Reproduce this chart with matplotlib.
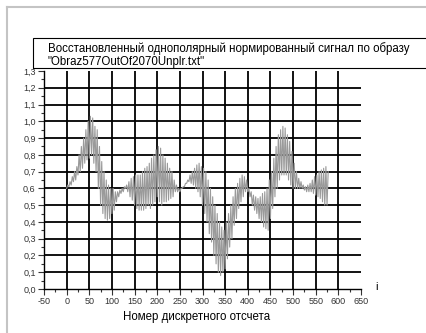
import numpy as np
import matplotlib
matplotlib.use("Agg")
import matplotlib.pyplot as plt
from matplotlib.ticker import MultipleLocator, FuncFormatter

plt.rcParams['font.family'] = ['Liberation Sans', 'DejaVu Sans']
plt.rcParams['axes.unicode_minus'] = False

TITLE = ('Восстановленный однополярный нормированный сигнал по образу\n'
         '"Obraz577OutOf2070Unplr.txt"')
XLABEL = "Номер дискретного отсчета"

# sample index (step 5) with upper / lower swing of the oscillating signal
idx = np.arange(0, 580, 5)
upper = [0.62, 0.64, 0.67, 0.70, 0.73, 0.80, 0.85, 0.90, 0.95, 1.00,
         1.03, 1.02, 0.97, 0.95, 0.85, 0.76, 0.70, 0.65, 0.62, 0.60,
         0.60, 0.58, 0.58, 0.59, 0.60, 0.61, 0.62, 0.64, 0.66, 0.67,
         0.68, 0.68, 0.68, 0.70, 0.72, 0.73, 0.75, 0.78, 0.80, 0.83,
         0.85, 0.84, 0.80, 0.78, 0.75, 0.72, 0.70, 0.65, 0.62, 0.60,
         0.60, 0.61, 0.63, 0.65, 0.68, 0.70, 0.72, 0.74, 0.75, 0.73,
         0.72, 0.70, 0.65, 0.60, 0.55, 0.50, 0.45, 0.40, 0.37, 0.35,
         0.40, 0.45, 0.50, 0.55, 0.60, 0.63, 0.66, 0.68, 0.67, 0.65,
         0.60, 0.58, 0.56, 0.55, 0.54, 0.55, 0.57, 0.58, 0.60, 0.65,
         0.70, 0.78, 0.85, 0.92, 0.95, 0.97, 0.96, 0.92, 0.88, 0.82,
         0.75, 0.70, 0.66, 0.64, 0.62, 0.61, 0.62, 0.63, 0.65, 0.67,
         0.68, 0.70, 0.71, 0.72, 0.73, 0.70]
lower = [0.60, 0.61, 0.62, 0.64, 0.65, 0.68, 0.70, 0.72, 0.75, 0.77,
         0.78, 0.80, 0.75, 0.70, 0.60, 0.50, 0.45, 0.42, 0.41, 0.42,
         0.45, 0.47, 0.52, 0.55, 0.57, 0.58, 0.60, 0.58, 0.55, 0.53,
         0.50, 0.48, 0.47, 0.47, 0.47, 0.48, 0.50, 0.48, 0.50, 0.52,
         0.55, 0.52, 0.50, 0.52, 0.52, 0.53, 0.54, 0.55, 0.58, 0.58,
         0.58, 0.60, 0.61, 0.63, 0.64, 0.63, 0.62, 0.60, 0.58, 0.55,
         0.50, 0.45, 0.40, 0.33, 0.28, 0.20, 0.15, 0.10, 0.08, 0.10,
         0.12, 0.18, 0.25, 0.30, 0.38, 0.42, 0.48, 0.52, 0.55, 0.58,
         0.58, 0.55, 0.50, 0.47, 0.45, 0.42, 0.40, 0.37, 0.36, 0.35,
         0.42, 0.48, 0.55, 0.60, 0.65, 0.68, 0.68, 0.68, 0.65, 0.62,
         0.60, 0.60, 0.60, 0.60, 0.60, 0.59, 0.58, 0.58, 0.58, 0.57,
         0.56, 0.55, 0.54, 0.52, 0.50, 0.50]

# zigzag: lower value at i, upper value half a step later
xs = np.column_stack([idx, idx + 2.5]).ravel()
ys = np.column_stack([lower, upper]).ravel()

fig = plt.figure(figsize=(4.26, 3.33), dpi=100)

# page frame
fig.add_artist(plt.Line2D([7 / 426, 7 / 426], [0, 1 - 7 / 333], color="#c4c4c4", lw=1.5))
fig.add_artist(plt.Line2D([7 / 426, 1], [1 - 7 / 333, 1 - 7 / 333], color="#c4c4c4", lw=1.5))

# title box
fig.add_artist(plt.Rectangle((33 / 426, 1 - 68 / 333), 1, 30 / 333, fill=False,
                             edgecolor="black", lw=0.8))
fig.text(48 / 426, 1 - 55 / 333, TITLE, fontsize=8.3, va="center", ha="left",
         linespacing=1.2)

ax = fig.add_axes([44 / 426, 44 / 333, 317 / 426, 218 / 333])
ax.set_xlim(-50, 650)
ax.set_ylim(0, 1.3)

# grid
for gx in range(0, 650, 50):
    ax.plot([gx, gx], [0, 1.3], color="black", lw=1.3, zorder=1)
for gy in np.arange(0.1, 1.25, 0.1):
    ax.plot([-50, 650], [gy, gy], color="black", lw=1.3, zorder=1)

ax.plot(xs, ys, color="#9a9a9a", lw=0.8, zorder=2)

for s in ("top", "right"):
    ax.spines[s].set_visible(False)
for s in ("left", "bottom"):
    ax.spines[s].set_linewidth(1.0)

ax.xaxis.set_major_locator(MultipleLocator(50))
ax.xaxis.set_minor_locator(MultipleLocator(25))
ax.yaxis.set_major_locator(MultipleLocator(0.1))
ax.yaxis.set_minor_locator(MultipleLocator(0.05))
ax.yaxis.set_major_formatter(FuncFormatter(lambda v, p: f"{v:.1f}".replace(".", ",")))
ax.tick_params(which="major", length=4, width=0.8, labelsize=6.5, colors="#333333", pad=2)
ax.tick_params(which="minor", length=2, width=0.8, colors="#333333")

fig.text(377 / 426, 1 - 287 / 333, "i", fontsize=8, ha="center", va="center")
fig.text(197 / 426, 1 - 317 / 333, XLABEL, fontsize=8.3, ha="center", va="center")

fig.savefig("out.png", dpi=100)
